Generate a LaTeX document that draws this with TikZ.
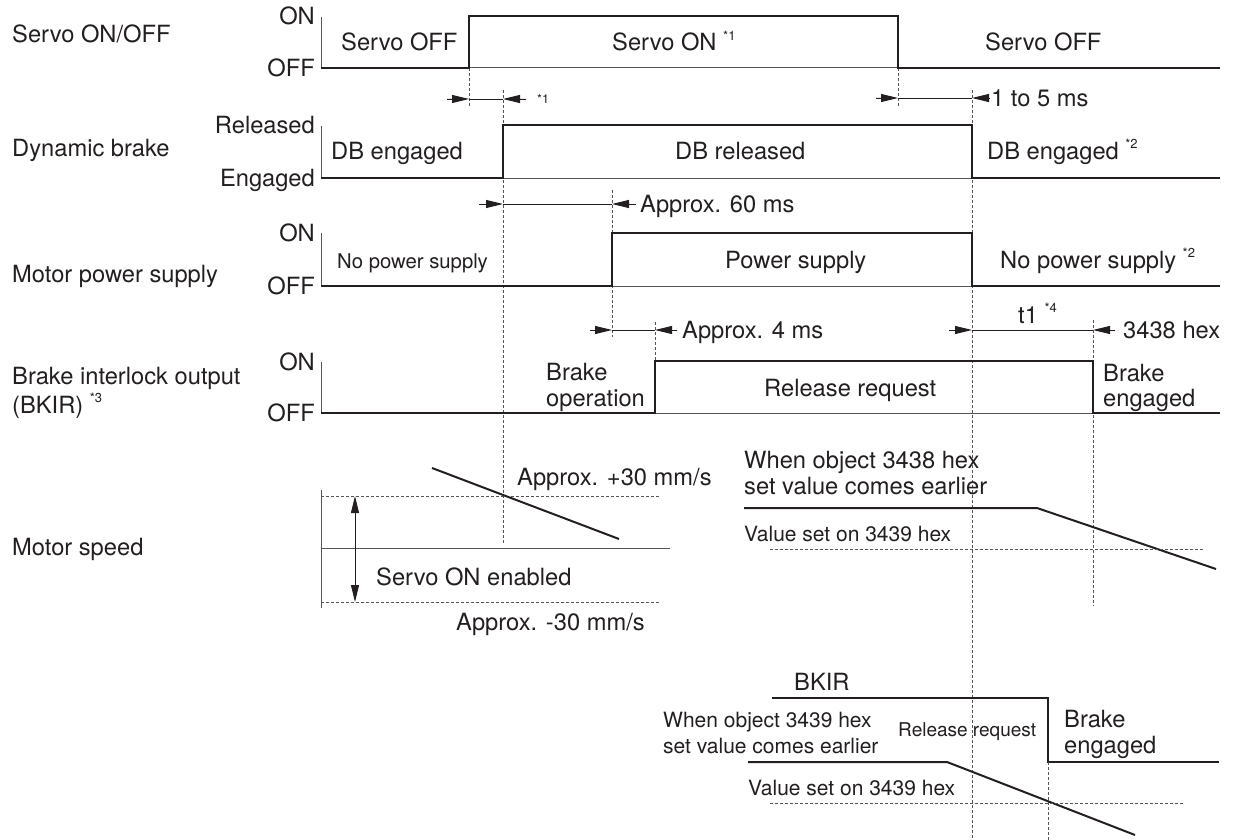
\documentclass[tikz,border=0pt]{standalone}
\usepackage{fontspec}
\setmainfont{TeX Gyre Heros}
\usetikzlibrary{arrows.meta}
\definecolor{ink}{HTML}{231F20}
\definecolor{thinc}{HTML}{555555}
\newcommand\supnote[1]{\raisebox{0.45em}{\fontsize{13}{13}\selectfont #1}}
\begin{document}
\begin{tikzpicture}[x=1pt,y=-1pt,
  font=\fontsize{23.7}{28}\selectfont,
  sig/.style={line width=2.4pt, draw=ink},
  slope/.style={line width=2pt, draw=ink},
  baseln/.style={line width=1pt, draw=thinc},
  axisln/.style={line width=1pt, draw=thinc},
  guide/.style={line width=0.9pt, draw=thinc, dash pattern=on 3pt off 2pt},
  dim/.style={line width=0.9pt, draw=ink},
  tip/.style={-{Triangle[length=17pt,width=8pt]}, line width=0.9pt, draw=ink, fill=ink},
  lbl/.style={inner sep=0, anchor=base west, text=ink},
  lvl/.style={inner sep=0, anchor=base east, text=ink},
  sm/.style={font=\fontsize{21}{25}\selectfont},
  smr/.style={font=\fontsize{20.3}{24}\selectfont},
  tiny/.style={font=\fontsize{12.5}{13}\selectfont}]
\useasboundingbox (0,0) rectangle (1236,840);

% ---------- left titles
\node[lbl] (tServo) at (12,43) {Servo ON/OFF};
\node[lbl] (tDB) at (12,157) {Dynamic brake};
\node[lbl] (tMP) at (12,282) {Motor power supply};
\node[lbl] (tBK1) at (12,384) {Brake interlock output};
\node[lbl] (tBK2) at (12,413) {(BKIR) \supnote{*3}};
\node[lbl] (tMS) at (12,555) {Motor speed};

% ---------- guides (dashed verticals)
\draw[guide] (469,68) -- (469,106);
\draw[guide] (898,68) -- (898,106);
\draw[guide] (503,90) -- (503,543);
\draw[guide] (972,90) -- (972,840);
\draw[guide] (612,190) -- (612,337);
\draw[guide] (655,322) -- (655,361);
\draw[guide] (1093,320) -- (1093,606);

% ---------- row 1: servo
\draw[baseln] (321,68) -- (1220,68);
\draw[axisln] (321,17) -- (321,68);
\draw[sig] (321,68) -- (469,68) -- (469,16) -- (898,16) -- (898,68) -- (1220,68);
\node[lvl] (l1on) at (315,24.5) {ON};
\node[lvl] (l1off) at (315,76.5) {OFF};
\node[lbl] (s1a) at (341,51) {Servo OFF};
\node[lbl] (s1b) at (612,51) {Servo ON \supnote{*1}};
\node[lbl] (s1c) at (985,51) {Servo OFF};

% dimension *1
\draw[tip] (447,99) -- (469,99);
\draw[dim] (469,99) -- (503,99);
\draw[tip] (526,99) -- (503,99);
\node[lbl,tiny] (n1) at (537,103) {*1};
% dimension 1 to 5 ms
\draw[tip] (876,98) -- (898,98);
\draw[dim] (898,98) -- (972,98);
\draw[tip] (989,98) -- (972,98);
\node[lbl] (d15) at (991,106.5) {1 to 5 ms};

% ---------- row 2: dynamic brake
\draw[baseln] (321,178) -- (1220,178);
\draw[axisln] (321,126) -- (321,178);
\draw[sig] (321,178) -- (503,178) -- (503,125) -- (972,125) -- (972,178) -- (1220,178);
\node[lvl] (l2on) at (315,133.5) {Released};
\node[lvl] (l2off) at (315,186.5) {Engaged};
\node[lbl] (s2a) at (331,159) {DB engaged};
\node[lbl] (s2b) at (675,159) {DB released};
\node[lbl] (s2c) at (987,159) {DB engaged \supnote{*2}};

% dimension 60 ms
\draw[tip] (479,204) -- (503,204);
\draw[dim] (503,204) -- (612,204);
\draw[tip] (636,204) -- (612,204);
\node[lbl] (d60) at (640,212.5) {Approx. 60 ms};

% ---------- row 3: motor power supply
\draw[baseln] (321,286) -- (1220,286);
\draw[axisln] (321,233) -- (321,286);
\draw[sig] (321,286) -- (612,286) -- (612,233) -- (972,233) -- (972,286) -- (1220,286);
\node[lvl] (l3on) at (315,241.5) {ON};
\node[lvl] (l3off) at (315,294.5) {OFF};
\node[lbl,smr] (s3a) at (337,268) {No power supply};
\node[lbl] (s3b) at (725,268) {Power supply};
\node[lbl] (s3c) at (1000,268) {No power supply \supnote{*2}};

% dimension 4 ms
\draw[tip] (590,330) -- (612,330);
\draw[dim] (612,330) -- (655,330);
\draw[tip] (677,330) -- (655,330);
\node[lbl] (d4) at (682,338.5) {Approx. 4 ms};
% dimension t1
\draw[tip] (949,330) -- (972,330);
\draw[dim] (972,330) -- (1093,330);
\draw[tip] (1115,330) -- (1093,330);
\node[lbl] (d3438) at (1123,338.5) {3438 hex};
\node[lbl] (dt1) at (1018,323) {t1 \supnote{*4}};

% ---------- row 4: BKIR
\draw[baseln] (321,413) -- (1220,413);
\draw[axisln] (321,362) -- (321,413);
\draw[sig] (321,413) -- (655,413) -- (655,361) -- (1093,361) -- (1093,413) -- (1220,413);
\node[lvl] (l4on) at (315,370.5) {ON};
\node[lvl] (l4off) at (315,421.5) {OFF};
\node[lbl] (s4a1) at (546,380) {Brake};
\node[lbl] (s4a2) at (546,406) {operation};
\node[lbl] (s4b) at (764,396) {Release request};
\node[lbl] (s4c1) at (1103,381) {Brake};
\node[lbl] (s4c2) at (1103,406) {engaged};

% ---------- motor speed, left graph
\draw[axisln] (321,490) -- (321,608);
\draw[baseln] (321,548) -- (670,548);
\draw[guide] (321,496) -- (660,496);
\draw[guide] (321,602) -- (660,602);
\draw[dim, fill=ink, {Triangle[length=17pt,width=8pt]}-{Triangle[length=17pt,width=8pt]}] (355,496) -- (355,602);
\draw[slope] (432,468) -- (619,539);
\node[lbl] (vp30) at (517,485) {Approx. +30 mm/s};
\node[lbl] (ven) at (376,585) {Servo ON enabled};
\node[lbl] (vm30) at (456,630) {Approx. -30 mm/s};

% ---------- right graph (3438 earlier)
\node[lbl] (r1a) at (744,468) {When object 3438 hex};
\node[lbl] (r1b) at (744,494) {set value comes earlier};
\draw[slope] (744,508) -- (1037,508) -- (1216,569);
\node[lbl,sm] (r1c) at (744,541) {Value set on 3439 hex};
\draw[guide] (770,549) -- (1204,549);

% ---------- bottom graph (3439 earlier)
\node[lbl] (b1) at (794,690) {BKIR};
\draw[sig] (772,698) -- (1048,698) -- (1048,762) -- (1219,762);
\draw[guide] (1048,762) -- (1048,840);
\node[lbl,sm] (b2a) at (663,727) {When object 3439 hex};
\node[lbl,sm] (b2b) at (663,753) {set value comes earlier};
\node[lbl,font=\fontsize{19}{22}\selectfont] (b3) at (898,736) {Release request};
\node[lbl] (b4a) at (1064,727) {Brake};
\node[lbl] (b4b) at (1064,753) {engaged};
\draw[slope] (748,762) -- (947,762) -- (1135,835);
\node[lbl,sm] (b5) at (748,795) {Value set on 3439 hex};
\draw[guide] (770,803) -- (1183,803);
\end{tikzpicture}
\end{document}
